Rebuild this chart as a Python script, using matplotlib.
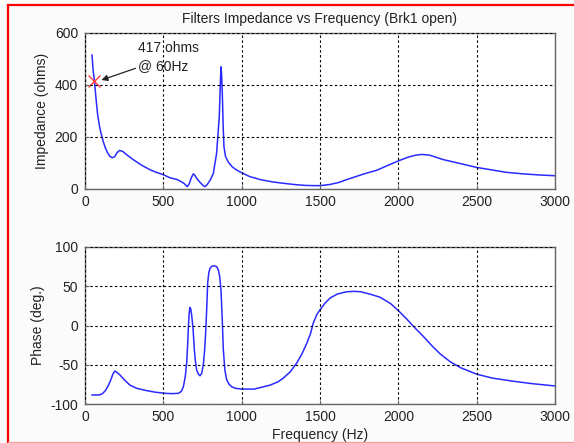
import matplotlib
matplotlib.use("Agg")
import matplotlib.pyplot as plt
from matplotlib.lines import Line2D

plt.rcParams['font.family'] = ['Liberation Sans', 'DejaVu Sans']
plt.rcParams['axes.unicode_minus'] = False

# ---------------- data ----------------
imp_freq = [45, 50, 55, 60, 70, 80, 90, 100, 115, 130, 145, 160, 175, 190, 205, 220,
            240, 270, 310, 360, 415, 460, 500, 543, 585, 615, 635, 653, 665, 680, 691,
            700, 713, 735, 755, 766, 780, 800, 819, 840, 857, 863, 868, 872, 877, 882,
            887, 897, 915, 940, 968, 989, 1050, 1120, 1200, 1266, 1340, 1400, 1450,
            1500, 1560, 1620, 1670, 1720, 1780, 1862, 1930, 2000, 2060, 2110, 2150,
            2200, 2287, 2380, 2500, 2600, 2691, 2800, 2900, 3000]
imp_vals = [515, 470, 440, 417, 350, 290, 250, 220, 185, 158, 138, 125, 120, 125, 140, 148,
            145, 130, 112, 92, 74, 63, 55, 43, 37, 28, 20, 9, 20, 45, 58,
            54, 41, 25, 13, 9, 17, 35, 60, 137, 278, 390, 470, 440, 355, 240,
            163, 125, 103, 85, 73, 66, 48, 36, 27, 22, 17, 14, 13,
            13, 17, 25, 36, 46, 58, 72, 90, 108, 122, 130, 133,
            130, 113, 100, 83, 73, 64, 58, 54, 51]

ph_freq = [45, 60, 90, 110, 130, 150, 165, 180, 191, 205, 223, 250, 287, 330, 394, 450,
           511, 560, 596, 615, 628, 640, 649, 655, 660, 665, 670, 675, 681, 690, 698,
           705, 713, 724, 734, 745, 755, 763, 770, 777, 783, 790, 798, 810, 825, 840,
           851, 860, 868, 876, 883, 893, 904, 920, 936, 960, 1000, 1080, 1181, 1230,
           1266, 1310, 1351, 1385, 1415, 1440, 1457, 1480, 1500, 1530, 1564, 1610,
           1670, 1720, 1760, 1819, 1883, 1950, 2000, 2050, 2096, 2160, 2220, 2266,
           2330, 2400, 2500, 2600, 2734, 2850, 3000]
ph_vals = [-88.5, -88.5, -88.5, -87, -83, -76, -69, -61, -58, -60, -63, -69, -76, -80, -83, -85,
           -86.4, -86.8, -86.4, -84, -78, -65, -48, -25, -2, 16, 23, 21, 13, -5, -31,
           -46, -57, -62, -64, -61, -50, -33, -10, 22, 54, 67, 73, 75.5, 76, 75,
           71, 62, 45, 8, -31, -57, -69, -75, -78, -80, -81, -81, -76, -72,
           -67, -59, -48, -36, -23, -10, 3, 14, 20, 28, 35, 40,
           43, 43.5, 43, 40, 36, 28, 19, 9, -1, -14, -27, -36,
           -46, -54, -62, -67, -71, -74, -77]

marker_freq = [60]
marker_imp = [417]

title_text = "Filters Impedance vs Frequency (Brk1 open)"
ylabel_top = "Impedance (ohms)"
ylabel_bot = "Phase (deg.)"
xlabel_bot = "Frequency (Hz)"
annot_text = "417 ohms\n@ 60Hz"

x_ticks = [0, 500, 1000, 1500, 2000, 2500, 3000]
imp_ticks = [0, 200, 400, 600]
ph_ticks = [-100, -50, 0, 50, 100]

# ---------------- figure ----------------
W, H = 574, 443
fig = plt.figure(figsize=(W / 100, H / 100), dpi=100)
fig.patch.set_facecolor('#fbfbfb')

line_col = '#2a2aff'
frame_col = '#666666'
txt_col = '#222222'
fs = 10


def style(ax):
    ax.set_facecolor('white')
    ax.set_xlim(0, 3000)
    ax.set_xticks(x_ticks)
    ax.grid(True, color='black', linestyle=(0, (2.2, 2.2)), linewidth=0.8)
    ax.set_axisbelow(False)
    for s in ax.spines.values():
        s.set_color(frame_col)
        s.set_linewidth(1.0)
    ax.tick_params(direction='in', length=3, color=frame_col, labelsize=fs,
                   labelcolor=txt_col)
    ax.tick_params(axis='y', pad=5)
    ax.tick_params(axis='x', pad=4)


ax1 = fig.add_axes([85 / W, 1 - 189 / H, 470 / W, 156 / H])
ax2 = fig.add_axes([85 / W, 1 - 404 / H, 470 / W, 157 / H])

style(ax1)
ax1.plot(imp_freq, imp_vals, color=line_col, lw=1.1)
ax1.plot(marker_freq, marker_imp, 'x', color='#ff4040', ms=9, mew=1.0)
ax1.set_ylim(0, 600)
ax1.set_yticks(imp_ticks)
ax1.set_title(title_text, fontsize=fs, color=txt_col, pad=7)
ax1.set_ylabel(ylabel_top, fontsize=fs, color=txt_col, labelpad=4)
ax1.annotate(annot_text, xy=(105, 419), xytext=(340, 447),
             fontsize=fs, color=txt_col, ha='left', va='bottom', linespacing=1.35,
             arrowprops=dict(arrowstyle='-|>', color=txt_col, lw=0.9,
                             mutation_scale=9, shrinkA=0, shrinkB=0),
             annotation_clip=False)

style(ax2)
ax2.plot(ph_freq, ph_vals, color=line_col, lw=1.1)
ax2.set_ylim(-100, 100)
ax2.set_yticks(ph_ticks)
ax2.set_ylabel(ylabel_bot, fontsize=fs, color=txt_col, labelpad=4)
ax2.set_xlabel(xlabel_bot, fontsize=fs, color=txt_col, labelpad=3)

# red border (partially cropped frame)
def px(x, y):
    return x / W, 1 - y / H

fig.add_artist(Line2D([px(8, 5)[0], px(574, 5)[0]], [px(8, 5)[1], px(574, 5)[1]],
                      color='#ff0000', lw=1.6, transform=fig.transFigure))
fig.add_artist(Line2D([px(8, 5)[0], px(8, 443)[0]], [px(8, 5)[1], px(8, 443)[1]],
                      color='#ff0000', lw=1.6, transform=fig.transFigure))
fig.add_artist(Line2D([px(8, 441.5)[0], px(574, 441.5)[0]],
                      [px(8, 441.5)[1], px(574, 441.5)[1]],
                      color='#ff9a9a', lw=0.9, transform=fig.transFigure))

fig.savefig('out.png', dpi=100, facecolor=fig.get_facecolor())
